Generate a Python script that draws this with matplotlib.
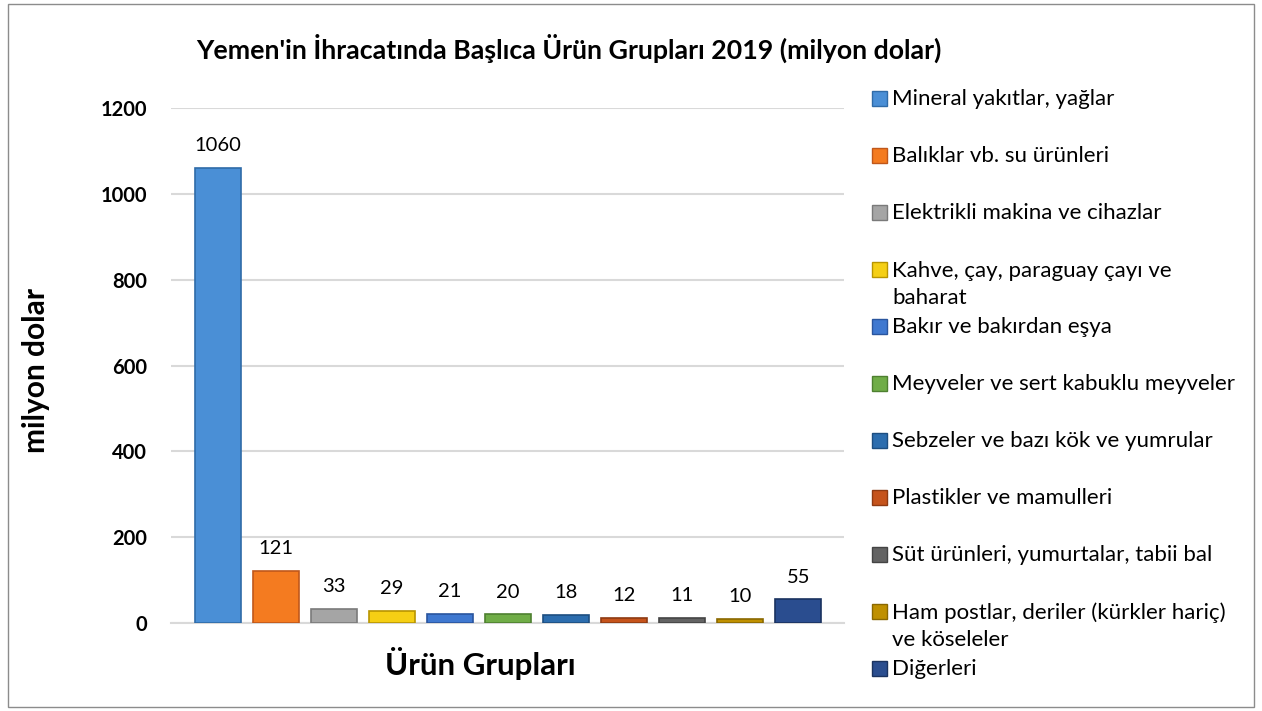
import matplotlib.pyplot as plt
from matplotlib.patches import Rectangle

# Yemen export product groups 2019 (million USD)
categories = [
    "Mineral yakıtlar, yağlar",
    "Balıklar vb. su ürünleri",
    "Elektrikli makina ve cihazlar",
    "Kahve, çay, paraguay çayı ve\nbaharat",
    "Bakır ve bakırdan eşya",
    "Meyveler ve sert kabuklu meyveler",
    "Sebzeler ve bazı kök ve yumrular",
    "Plastikler ve mamulleri",
    "Süt ürünleri, yumurtalar, tabii bal",
    "Ham postlar, deriler (kürkler hariç)\nve köseleler",
    "Diğerleri",
]
values = [1060, 121, 33, 29, 21, 20, 18, 12, 11, 10, 55]
colors = ["#4A8FD6", "#F47B20", "#A5A5A5", "#F5CF14", "#3F78D0", "#70AD47",
          "#2C6DAE", "#C5531B", "#636363", "#BF9000", "#2A4D8F"]
edges = ["#2F6BA8", "#C0571A", "#7A7A7A", "#B89500", "#2A559E", "#4E8030",
         "#1D4E80", "#8E3A12", "#444444", "#8A6800", "#1A325F"]
yticks = [0, 200, 400, 600, 800, 1000, 1200]

plt.rcParams['font.family'] = ['Lato', 'DejaVu Sans']

W, H = 1262, 711
fig = plt.figure(figsize=(W / 100, H / 100), dpi=100)

# outer chart border
fig.patches.append(Rectangle((8 / W, 4 / H), 1 - 16 / W, 1 - 8 / H,
                             transform=fig.transFigure, fill=False,
                             edgecolor="#8C8C8C", linewidth=1))

ax = fig.add_axes([171 / W, 1 - 623 / H, 673 / W, 515 / H])
x = range(len(values))
bars = ax.bar(x, values, width=0.8, color=colors, edgecolor=edges, linewidth=1.2, zorder=3)

for b, v in zip(bars, values):
    ax.annotate(str(v), (b.get_x() + b.get_width() / 2, v), xytext=(0, 10),
                textcoords="offset points", ha="center", va="bottom", fontsize=14.5)

ax.set_xlim(-0.81, 10.79)
ax.set_ylim(0, 1200)
ax.set_yticks(yticks)
ax.set_yticklabels([str(t) for t in yticks], fontsize=14.5, fontweight="bold")
ax.set_xticks([])
ax.tick_params(axis="y", length=0, pad=17.5)
ax.grid(axis="y", color="#D9D9D9", linewidth=1.5, zorder=0)
for s in ["top", "right", "left"]:
    ax.spines[s].set_visible(False)
ax.spines["bottom"].set_color("#D9D9D9")
ax.spines["bottom"].set_linewidth(1.5)

fig.text(36 / W, 1 - 370 / H, "milyon dolar", rotation=90, ha="center", va="center",
         fontsize=21.5, fontweight="bold")
fig.text(480 / W, 1 - 663 / H, "Ürün Grupları", ha="center", va="center",
         fontsize=22.5, fontweight="bold")

fig.text(569 / W, 1 - 48 / H, "Yemen'in İhracatında Başlıca Ürün Grupları 2019 (milyon dolar)",
         ha="center", va="center", fontsize=19.3, fontweight="bold")

# legend drawn as a column of entries on the right
line_h = 28
for i, (lab, c, e) in enumerate(zip(categories, colors, edges)):
    yc = 98 + i * 57
    nlines = lab.count("\n") + 1
    fig.patches.append(Rectangle((872 / W, 1 - (yc + 8) / H), 15 / W, 15 / H,
                                 transform=fig.transFigure, facecolor=c,
                                 edgecolor=e, linewidth=1))
    # baseline alignment uses the last line, so shift by the extra lines
    fig.text(892 / W, 1 - (yc + 7 + (nlines - 1) * line_h) / H, lab, ha="left",
             va="baseline", fontsize=16, linespacing=1.46)

fig.savefig("out.png", dpi=100)
